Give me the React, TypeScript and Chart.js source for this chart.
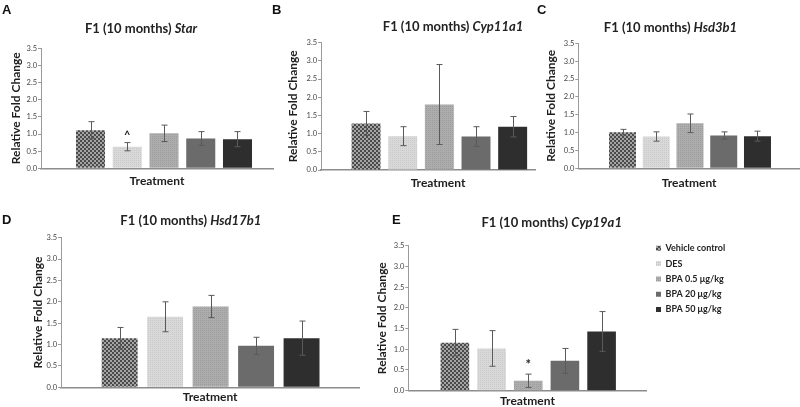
import React, { useEffect, useRef } from 'react';
import { Chart, registerables } from 'chart.js';
Chart.register(...registerables);

const FONT = 'Lato, "Open Sans", "DejaVu Sans", sans-serif';
const LETTER_FONT = '"Liberation Sans", Arial, sans-serif';

// ---- data ----
const treatments = ['Vehicle control', 'DES', 'BPA 0.5 μg/kg', 'BPA 20 μg/kg', 'BPA 50 μg/kg'];
const yTickValues = [0, 0.5, 1, 1.5, 2, 2.5, 3, 3.5];

const starMean = [1.11, 0.63, 1.02, 0.87, 0.85];
const starErr = [0.25, 0.12, 0.24, 0.2, 0.22];
const starMarks = ['', '^', '', '', ''];

const cyp11a1Mean = [1.28, 0.93, 1.8, 0.92, 1.19];
const cyp11a1Err = [0.33, 0.26, 1.1, 0.27, 0.28];
const cyp11a1Marks = ['', '', '', '', ''];

const hsd3b1Mean = [1.01, 0.89, 1.26, 0.92, 0.9];
const hsd3b1Err = [0.08, 0.13, 0.26, 0.1, 0.14];
const hsd3b1Marks = ['', '', '', '', ''];

const hsd17b1Mean = [1.15, 1.65, 1.89, 0.97, 1.15];
const hsd17b1Err = [0.25, 0.35, 0.26, 0.2, 0.4];
const hsd17b1Marks = ['', '', '', '', ''];

const cyp19a1Mean = [1.16, 1.02, 0.24, 0.72, 1.43];
const cyp19a1Err = [0.32, 0.43, 0.16, 0.3, 0.48];
const cyp19a1Marks = ['', '', '*', '', ''];

// ---- layout specs (positions only) ----
type Spec = {
  letter: string; gene: string;
  means: number[]; errs: number[]; marks: string[];
  box: number[]; area: number[];
  xMin: number; xMax: number; barRatio: number;
  yTitleX: number; xTitleY: number; xTitleIndent?: number;
  letterPos: number[]; titlePos: number[];
  legend?: boolean;
};

const specs: Spec[] = [
  { letter: 'A', gene: 'Star', means: starMean, errs: starErr, marks: starMarks,
    box: [0, 0, 275, 200], area: [41, 48.3, 273, 168.3], xMin: -1.347, xMax: 4.966, barRatio: 0.79,
    yTitleX: 16, xTitleY: 180.7, letterPos: [2, 14], titlePos: [141, 29] },
  { letter: 'B', gene: 'Cyp11a1', means: cyp11a1Mean, errs: cyp11a1Err, marks: cyp11a1Marks,
    box: [262, 0, 275, 200], area: [321, 42.7, 535, 170], xMin: -1.23, xMax: 4.61, barRatio: 0.79,
    yTitleX: 293, xTitleY: 183.3, xTitleIndent: 7, letterPos: [272, 14], titlePos: [453, 27] },
  { letter: 'C', gene: 'Hsd3b1', means: hsd3b1Mean, errs: hsd3b1Err, marks: hsd3b1Marks,
    box: [530, 0, 270, 200], area: [578.3, 43.3, 800, 168.3], xMin: -1.31, xMax: 5.26, barRatio: 0.8,
    yTitleX: 551, xTitleY: 182.7, letterPos: [537, 14], titlePos: [670.5, 28] },
  { letter: 'D', gene: 'Hsd17b1', means: hsd17b1Mean, errs: hsd17b1Err, marks: hsd17b1Marks,
    box: [0, 200, 365, 207], area: [61, 237.7, 359.3, 387.3], xMin: -1.29, xMax: 5.27, barRatio: 0.79,
    yTitleX: 38, xTitleY: 396.7, letterPos: [2, 223.5], titlePos: [190.8, 220.7] },
  { letter: 'E', gene: 'Cyp19a1', means: cyp19a1Mean, errs: cyp19a1Err, marks: cyp19a1Marks,
    box: [360, 200, 440, 207], area: [408.3, 245.7, 646.7, 390.7], xMin: -1.27, xMax: 5.23, barRatio: 0.78,
    yTitleX: 381.7, xTitleY: 401.7, letterPos: [392, 223.5], titlePos: [551.7, 223], legend: true },
];

// ---- fills ----
function tile(size: number, draw: (c: CanvasRenderingContext2D) => void): CanvasPattern {
  const cv = document.createElement('canvas');
  cv.width = size; cv.height = size;
  const c = cv.getContext('2d')!;
  draw(c);
  return c.createPattern(cv, 'repeat')!;
}
let fillCache: any[] | null = null;
function getFills() {
  if (fillCache) return fillCache;
  fillCache = [
    tile(4, c => { c.fillStyle = '#a4a4a4'; c.fillRect(0, 0, 4, 4); c.fillStyle = '#4a4a4a'; c.fillRect(0, 0, 2, 2); c.fillRect(2, 2, 2, 2); }),
    tile(2, c => { c.fillStyle = '#d9d9d9'; c.fillRect(0, 0, 2, 2); c.fillStyle = '#c9c9c9'; c.fillRect(0, 0, 1, 1); }),
    tile(2, c => { c.fillStyle = '#adadad'; c.fillRect(0, 0, 2, 2); c.fillStyle = '#9c9c9c'; c.fillRect(0, 0, 1, 1); }),
    '#6b6b6b',
    '#2e2e2e',
  ];
  return fillCache;
}

// ---- plugins ----
const errorBarPlugin = {
  id: 'errorBars',
  afterDatasetsDraw(chart: any) {
    const ctx = chart.ctx;
    const ys = chart.scales.y;
    ctx.save();
    chart.data.datasets.forEach((ds: any, di: number) => {
      const meta = chart.getDatasetMeta(di);
      meta.data.forEach((bar: any, j: number) => {
        const v = ds.data[j].y;
        const e = ds.errors[j];
        const yt = ys.getPixelForValue(v + e);
        const yb = ys.getPixelForValue(v - e);
        const x = Math.round(bar.x) + 0.5;
        ctx.strokeStyle = '#5a5a5a';
        ctx.lineWidth = 1;
        ctx.beginPath();
        ctx.moveTo(x, yt); ctx.lineTo(x, yb);
        ctx.moveTo(x - 3, yt); ctx.lineTo(x + 3, yt);
        ctx.moveTo(x - 3, yb); ctx.lineTo(x + 3, yb);
        ctx.stroke();
        const m = ds.marks[j];
        if (m) {
          ctx.fillStyle = '#222';
          ctx.font = `bold ${m === '*' ? 13 : 11}px ${FONT}`;
          ctx.textAlign = 'center';
          ctx.textBaseline = 'middle';
          ctx.fillText(m, bar.x, yt - (m === '*' ? 9 : 7));
        }
      });
    });
    ctx.restore();
  },
};

const panelTextPlugin = {
  id: 'panelText',
  afterDraw(chart: any, _args: any, opts: any) {
    const ctx = chart.ctx;
    ctx.save();
    ctx.fillStyle = '#111';
    ctx.textAlign = 'left';
    ctx.textBaseline = 'alphabetic';
    ctx.font = `bold 13px ${LETTER_FONT}`;
    ctx.fillText(opts.letter, opts.lx, opts.ly);
    const f1 = `bold 13px ${FONT}`;
    const f2 = `italic bold 13px ${FONT}`;
    ctx.font = f1;
    const w1 = ctx.measureText(opts.prefix).width;
    ctx.font = f2;
    const w2 = ctx.measureText(opts.gene).width;
    const x0 = opts.tx - (w1 + w2) / 2;
    ctx.textBaseline = 'middle';
    ctx.fillStyle = '#222';
    ctx.font = f1;
    ctx.fillText(opts.prefix, x0, opts.ty);
    ctx.font = f2;
    ctx.fillText(opts.gene, x0 + w1, opts.ty);
    ctx.restore();
  },
};

const LEGEND_FONT_SIZE = 9;
const LEGEND_BOX = 5;
const LEGEND_PAD = 6.3;
const LEGEND_GAP = 3;
function legendNaturalWidth(): number {
  const cv = document.createElement('canvas');
  const c = cv.getContext('2d')!;
  c.font = `bold ${LEGEND_FONT_SIZE}px ${FONT}`;
  const w = Math.max(...treatments.map(t => c.measureText(t).width));
  return LEGEND_PAD + LEGEND_BOX + LEGEND_FONT_SIZE / 2 + w + 10;
}

function buildConfig(p: Spec): any {
  const [ox, oy, cw, ch] = p.box;
  const L = p.area[0] - ox, T = p.area[1] - oy, R = p.area[2] - ox, B = p.area[3] - oy;
  const fills = getFills();
  const legendWidth = p.legend ? legendNaturalWidth() + LEGEND_GAP : 0;
  const legendTop = 37.5;
  const datasets = treatments.map((label, i) => ({
    label,
    data: [{ x: i, y: p.means[i] }],
    backgroundColor: fills[i],
    borderWidth: 0,
    errors: [p.errs[i]],
    marks: [p.marks[i]],
    grouped: false,
    categoryPercentage: 1,
    barPercentage: p.barRatio,
  }));
  const xTitleSize = 12;
  const yTitleSize = 12;
  const xTitleText = '\u00a0'.repeat(p.xTitleIndent || 0) + 'Treatment';
  const scales: any = {
    x: {
      type: 'linear',
      offset: false,
      min: p.xMin,
      max: p.xMax,
      afterBuildTicks: (s: any) => { s.ticks = treatments.map((_, i) => ({ value: i })); },
      ticks: { display: false },
      grid: { display: false, offset: false },
      border: { display: true, color: '#8c8c8c', width: 1.5 },
      title: {
        display: true, text: xTitleText, color: '#1e1e1e',
        font: { family: FONT, size: xTitleSize, weight: 'bold', lineHeight: 1 },
        padding: { top: 0, bottom: Math.max(0, ch - (p.xTitleY - oy) - xTitleSize / 2) },
      },
      afterFit: (s: any) => { s.height = ch - B; },
    },
    y: {
      type: 'linear',
      min: 0,
      max: 3.5,
      afterBuildTicks: (s: any) => { s.ticks = yTickValues.map(v => ({ value: v })); },
      ticks: {
        color: '#444', padding: 1,
        font: { family: FONT, size: 7.5 },
        callback: (v: any) => Number(v).toFixed(1),
      },
      grid: { display: true, drawOnChartArea: false, drawTicks: true, tickLength: 3, color: '#9a9a9a' },
      border: { display: true, color: '#9a9a9a', width: 1 },
      title: {
        display: true, text: 'Relative Fold Change', color: '#1e1e1e',
        font: { family: FONT, size: yTitleSize, weight: 'bold', lineHeight: 1 },
        padding: { top: (p.yTitleX - ox) - yTitleSize / 2, bottom: 0 },
      },
      afterFit: (s: any) => { s.width = L; },
    },
  };
  if (p.legend) {
    // hidden spacer axis between the plot and the legend
    scales.gap = {
      type: 'linear', position: 'right', display: false,
      afterFit: (s: any) => { s.width = LEGEND_GAP; },
    };
  }
  return {
    type: 'bar',
    data: { datasets },
    plugins: [errorBarPlugin, panelTextPlugin],
    options: {
      animation: false,
      responsive: false,
      devicePixelRatio: 1,
      events: [],
      layout: {
        padding: p.legend
          ? { left: 0, top: legendTop, right: cw - R - legendWidth, bottom: 0 }
          : { left: 0, top: T, right: cw - R, bottom: 0 },
      },
      scales,
      plugins: {
        legend: p.legend
          ? {
              display: true, position: 'right', align: 'start',
              labels: {
                boxWidth: LEGEND_BOX, boxHeight: LEGEND_BOX, padding: LEGEND_PAD, color: '#222',
                font: { family: FONT, size: LEGEND_FONT_SIZE, weight: 'bold' },
              },
            }
          : { display: false },
        title: p.legend
          ? { display: true, text: '', font: { size: 1, lineHeight: 1 }, padding: { top: T - legendTop - 1, bottom: 0 } }
          : { display: false },
        tooltip: { enabled: false },
        panelText: {
          letter: p.letter, lx: p.letterPos[0] - ox, ly: p.letterPos[1] - oy,
          prefix: 'F1 (10 months) ', gene: p.gene, tx: p.titlePos[0] - ox, ty: p.titlePos[1] - oy,
        },
      },
    },
  };
}

function Panel({ spec }: { spec: Spec }) {
  const ref = useRef<HTMLCanvasElement>(null);
  useEffect(() => {
    const cfg = buildConfig(spec);
    const chart = new Chart(ref.current!, cfg);
    // correct the plot-area right edge if the legend/labels took a different width
    const wantR = spec.area[2] - spec.box[0];
    for (let k = 0; k < 4; k++) {
      const dR = wantR - chart.chartArea.right;
      if (Math.abs(dR) <= 0.1) break;
      const cur = chart.options.layout.padding as any;
      chart.options.layout.padding = { left: cur.left, top: cur.top, bottom: cur.bottom, right: cur.right - dR };
      chart.update();
    }
    return () => chart.destroy();
  }, [spec]);
  const [x, y, w, h] = spec.box;
  return (
    <canvas
      ref={ref}
      width={w}
      height={h}
      style={{ position: 'absolute', left: x, top: y, width: w, height: h }}
    />
  );
}

export default function App() {
  return (
    <div style={{ position: 'fixed', left: 0, top: 0, width: 800, height: 407, background: '#fff', overflow: 'hidden' }}>
      {specs.map(s => <Panel key={s.letter} spec={s} />)}
    </div>
  );
}
